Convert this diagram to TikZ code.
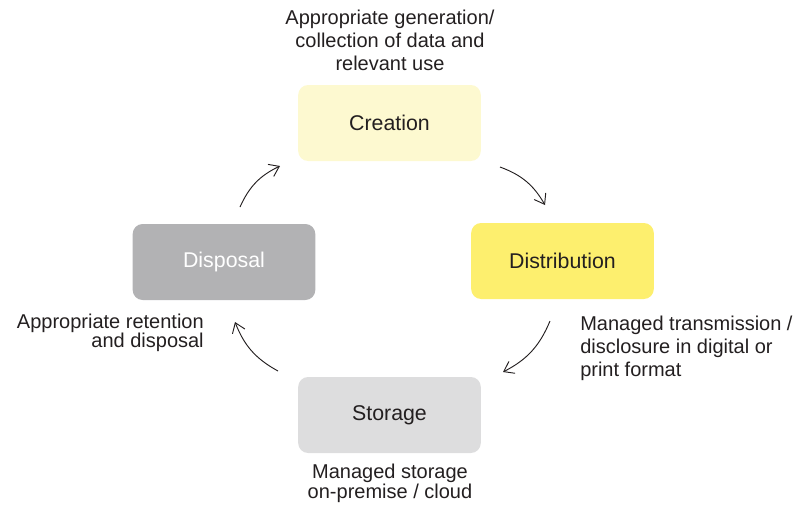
\documentclass[tikz,border=0pt]{standalone}
\usepackage{fontspec}
\setmainfont{Liberation Sans}
\usepackage{tikz}
\usetikzlibrary{arrows, arrows.meta, positioning}
\usepackage{xcolor}
\definecolor{creationfill}{HTML}{FDF9D0}
\definecolor{distribfill}{HTML}{FDEF6E}
\definecolor{disposalfill}{HTML}{B2B2B4}
\definecolor{storagefill}{HTML}{DDDDDE}
\definecolor{inktext}{HTML}{231F20}

\begin{document}
\begin{tikzpicture}[x=0.75pt, y=-0.75pt, ->, >={Straight Barb[length=7pt, width=10pt]}]
    \tikzstyle{stage} = [rounded corners=7.5pt, minimum width=137pt, minimum height=57pt, text centered, font=\fontsize{16}{19}\selectfont, text=inktext]
    \tikzstyle{note} = [font=\fontsize{15}{17.2}\selectfont, text=inktext, inner sep=0pt]
    \useasboundingbox (0,0) rectangle (796,504);
    \node [stage, fill=creationfill] at (389.5,123) (creation) {Creation};
    \node [stage, fill=distribfill] at (562.5,261) (distribution) {Distribution};
    \node [stage, fill=storagefill] at (389.5,415) (storage) {Storage};
    \node [stage, fill=disposalfill, text=white] at (224,262) (disposal) {Disposal};
    \node [note, align=center] at (390,40) (creationnote) {Appropriate generation/\\collection of data and\\relevant use};
    \node [note, align=left, anchor=west] at (580,348) (distribnote) {Managed transmission /\\disclosure in digital or\\print format};
    \node [note, align=center, font=\fontsize{15}{15}\selectfont] at (390,483) (storagenote) {Managed storage\\on-premise / cloud};
    \node [note, align=right, anchor=east, font=\fontsize{15}{14.5}\selectfont] at (204,333) (disposalnote) {Appropriate retention\\and disposal};
    \coordinate (a1) at (240,207);
    \coordinate (b1) at (280,166);
    \coordinate (a2) at (500,167);
    \coordinate (b2) at (545,205);
    \coordinate (a3) at (550,321);
    \coordinate (b3) at (503,372);
    \coordinate (a4) at (278,371);
    \coordinate (b4) at (235,322);
    \draw[bend left=20, draw=inktext, line width=0.7pt] (a1) to (b1);
    \draw[bend left=20, draw=inktext, line width=0.7pt] (a2) to (b2);
    \draw[bend left=20, draw=inktext, line width=0.7pt] (a3) to (b3);
    \draw[bend left=20, draw=inktext, line width=0.7pt] (a4) to (b4);
\end{tikzpicture}
\end{document}
